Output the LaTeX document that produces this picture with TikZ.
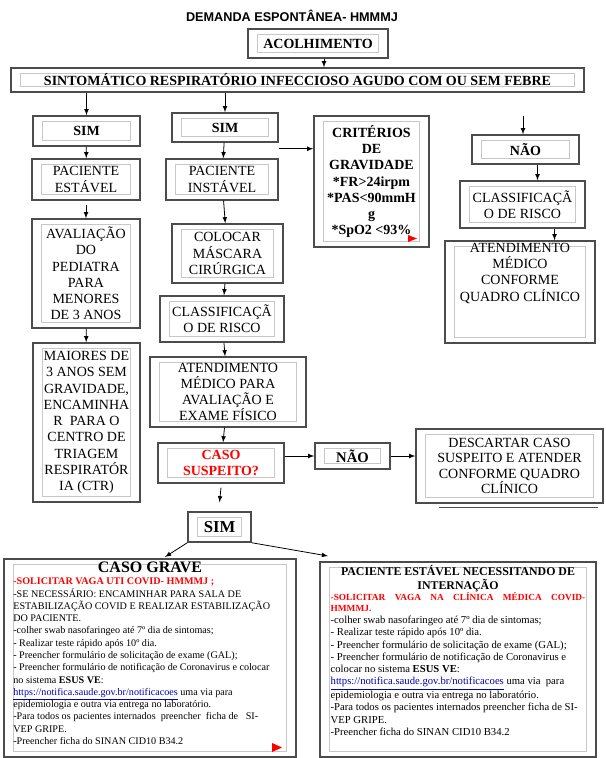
\documentclass[tikz,border=0pt]{standalone}
\usepackage{fontspec}
\setmainfont{Liberation Serif}
\newfontfamily\titulofonte{Liberation Sans}
\usetikzlibrary{arrows}

\tikzset{
  borda/.style={draw=black!70, line width=1.1pt,
    path picture={\draw[black!22, line width=.7pt]
      ([xshift=7pt,yshift=-4pt]path picture bounding box.north west) rectangle
      ([xshift=-7pt,yshift=4pt]path picture bounding box.south east);}},
  caixa/.style={borda, align=center, inner xsep=2pt, inner ysep=1pt,
    font=\fontsize{10.5}{12.2}\selectfont},
  negrito/.style={caixa, font=\fontsize{10.5}{12.2}\selectfont\bfseries},
  tam/.style 2 args={minimum width=#1*0.75pt, minimum height=#2*0.75pt},
}

\begin{document}
\begin{tikzpicture}[x=0.75pt, y=-0.75pt, >=latex, line width=.6pt]
      \useasboundingbox (0,0) rectangle (606,758);
      \node[font=\titulofonte\bfseries\fontsize{9.5}{11}\selectfont] (titulo) at (292,16) {DEMANDA ESPONTÂNEA- HMMMJ};
      \node[negrito, tam={140}{29}] (acolh) at (318,43.5) {ACOLHIMENTO};
      \node[negrito, tam={573}{24}] (sint) at (297.5,80) {SINTOMÁTICO RESPIRATÓRIO INFECCIOSO AGUDO COM OU SEM FEBRE};
      \node[negrito, tam={107}{30}] (simA) at (86.5,131) {SIM};
      \node[negrito, tam={106}{29}] (simB) at (225,127.5) {SIM};
      \node[negrito, tam={115}{131}] (crit) at (371.5,181.5) {CRITÉRIOS\\DE\\GRAVIDADE\\*FR>24irpm\\*PAS<90mmH\\g\\*SpO2 <93\%};
      \node[negrito, tam={107}{29}] (naoA) at (525.5,149.5) {NÃO};
      \node[caixa, tam={125}{47}] (classA) at (522.5,204.5) {CLASSIFICAÇÃ\\O DE RISCO};
      \node[caixa, tam={150}{102}, text depth=30pt] (atendA) at (520,292) {ATENDIMENTO\\MÉDICO\\CONFORME\\QUADRO CLÍNICO};
      \node[caixa, tam={108}{41}] (pacEst) at (86,179.5) {PACIENTE\\ESTÁVEL};
      \node[caixa, tam={108}{109}] (aval) at (86,273.5) {AVALIAÇÃO\\DO\\PEDIATRA\\PARA\\MENORES\\DE 3 ANOS};
      \node[caixa, tam={107}{159}] (maiores) at (86.5,422.5) {MAIORES DE\\3 ANOS SEM\\GRAVIDADE,\\ENCAMINHA\\R\ \ PARA O\\CENTRO DE\\TRIAGEM\\RESPIRATÓR\\IA (CTR)};
      \node[caixa, tam={112}{41}] (pacInst) at (222,179.5) {PACIENTE\\INSTÁVEL};
      \node[caixa, tam={111}{59}] (colocar) at (227.5,253.5) {COLOCAR\\MÁSCARA\\CIRÚRGICA};
      \node[caixa, tam={124}{46}] (classB) at (222,319) {CLASSIFICAÇÃ\\O DE RISCO};
      \node[caixa, tam={156}{70}] (atendB) at (228,392) {ATENDIMENTO\\MÉDICO PARA\\AVALIAÇÃO E\\EXAME FÍSICO};
      \node[negrito, text=red, tam={126}{40}] (caso) at (221,463) {CASO\\SUSPEITO?};
      \node[negrito, tam={75}{26}, font=\fontsize{11}{12}\selectfont\bfseries] (naoB) at (352.5,456) {NÃO};
      \node[caixa, tam={187}{74}, font=\fontsize{10.5}{11.5}\selectfont] (descartar) at (509.5,466) {DESCARTAR CASO\\SUSPEITO E ATENDER\\CONFORME QUADRO\\CLÍNICO};
      \node[negrito, tam={63}{30}, font=\fontsize{12.5}{14}\selectfont\bfseries] (simC) at (219.5,527) {SIM};
      \node[borda, inner xsep=7pt, inner ysep=2pt, tam={292}{198}] (grave) at (150,658) {\parbox[c][144pt][t]{205pt}{\fontsize{7.6}{9.2}\selectfont\raggedright
        {\centering\fontsize{12}{13.5}\selectfont\bfseries CASO GRAVE\par}
        {\color{red}\bfseries -SOLICITAR VAGA UTI COVID- HMMMJ ;}\\
        -SE NECESSÁRIO: ENCAMINHAR PARA SALA DE\\
        ESTABILIZAÇÃO COVID E REALIZAR ESTABILIZAÇÃO\\
        DO PACIENTE.\\
        -colher swab nasofaringeo até 7º dia de sintomas;\\
        - Realizar teste rápido após 10º dia.\\
        - Preencher formulário de solicitação de exame (GAL);\\
        - Preencher formulário de notificação de Coronavirus e colocar\\
        no sistema \textbf{ESUS VE}:\\
        {\color{blue!65!black}\underline{https://notifica.saude.gov.br/notificacoes}} uma via para\\
        epidemiologia e outra via entrega no laboratório.\\
        -Para todos os pacientes internados\ \ preencher\ \ ficha de\ \ \ SI-\\
        VEP GRIPE.\\
        -Preencher ficha do SINAN CID10 B34.2}};
      \node[borda, inner xsep=8pt, inner ysep=2pt, tam={276}{195}] (estavel) at (458,659.5) {\parbox[c][142pt][t]{191pt}{\fontsize{8}{9.2}\selectfont\raggedright
        {\centering\fontsize{8.9}{10.5}\selectfont\bfseries PACIENTE ESTÁVEL NECESSITANDO DE\\INTERNAÇÃO\par}
        {\color{red}\bfseries\fontsize{7}{7.8}\selectfont -SOLICITAR\hfill VAGA\hfill NA\hfill CLÍNICA\hfill MÉDICA\hfill COVID-\\HMMMJ.\par}
        -colher swab nasofaringeo até 7º dia de sintomas;\\
        - Realizar teste rápido após 10º dia.\\
        - Preencher formulário de solicitação de exame (GAL);\\
        - Preencher formulário de notificação de Coronavirus e\\
        colocar no sistema \textbf{ESUS VE}:\\
        {\color{blue!65!black}\underline{https://notifica.saude.gov.br/notificacoes}} uma via\ \ para\\
        epidemiologia e outra via entrega no laboratório.\\
        -Para todos os pacientes internados preencher ficha de SI-\\
        VEP GRIPE.\\
        -Preencher ficha do SINAN CID10 B34.2}};
      \coordinate (topoNao) at (523,116);
      \coordinate (saidaAcolh) at ([xshift=4.5pt]acolh.south);
      \coordinate (saidaB) at ([yshift=-4.5pt]simB.south east);
      \coordinate (dirNao) at ([xshift=9pt]naoA.south);
      \coordinate (dirClass) at ([xshift=24pt]classA.south);
      \coordinate (chegaGrave) at (165,557);
      \coordinate (chegaEstavel) at (328,556);
      \draw[->] (saidaAcolh) -- (saidaAcolh |- sint.north);
      \draw[->] (simA.north |- sint.south) -- (simA.north);
      \draw[->] (simB.north |- sint.south) -- (simB.north);
      \draw[->] (topoNao) -- (topoNao |- naoA.north);
      \draw[->] (saidaB) -- (saidaB -| crit.west);
      \draw[->] (dirNao) -- (dirNao |- classA.north);
      \draw[->] (dirClass) -- (dirClass |- atendA.north);
      \draw[->] (simA) -- (pacEst);
      \draw[->] ([yshift=-3pt]pacEst.south) -- (aval.north);
      \draw[->] (aval) -- (maiores);
      \draw[->] (simB) -- (pacInst);
      \draw[->] (pacInst) -- (colocar);
      \draw[->] (colocar) -- (classB);
      \draw[->] (classB) -- (atendB);
      \draw[->] (atendB) -- (caso);
      \draw[->] ([yshift=-3pt]caso.south) -- ([yshift=6.75pt]simC.north);
      \draw[->] (caso.east |- naoB.west) -- (naoB.west);
      \draw[->] (naoB.east) -- (naoB.east -| descartar.west);
      \draw[->] (simC.south west) -- (chegaGrave);
      \draw[->] (simC.south east) -- (chegaEstavel);
      \draw[black!70, line width=.8pt] ([xshift=18pt,yshift=-3pt]descartar.south west) -- ([xshift=-4.5pt,yshift=-3pt]descartar.south east);
      \fill[red] (408,235) -- (417,238.5) -- (408,242) -- cycle;
      \fill[red] (272,743) -- (282,747.5) -- (272,752) -- cycle;
    \end{tikzpicture}
\end{document}
